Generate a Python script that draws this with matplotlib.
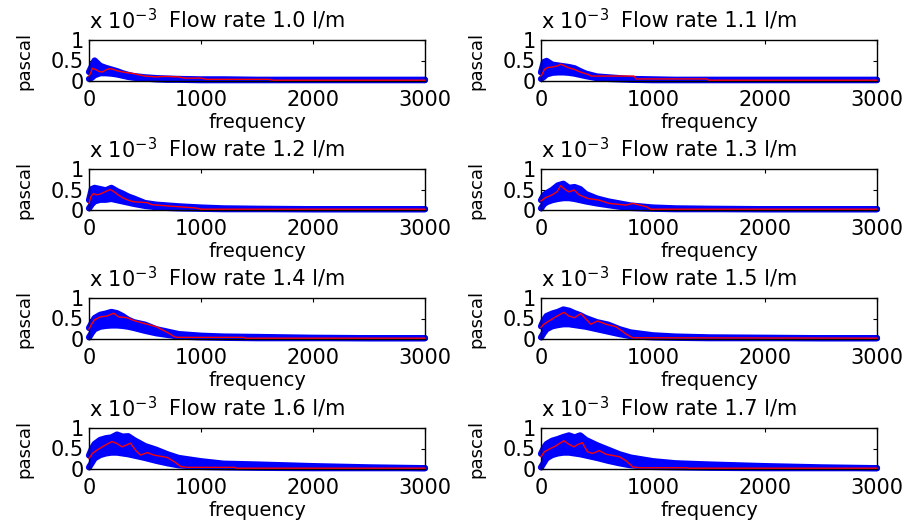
import matplotlib
matplotlib.use("Agg")
import matplotlib.pyplot as plt
import numpy as np

plt.rcParams['font.family'] = ['DejaVu Sans']
plt.rcParams['mathtext.fontset'] = 'dejavusans'

flow_labels = ["1.0", "1.1", "1.2", "1.3", "1.4", "1.5", "1.6", "1.7"]

# shared frequency grid for the blue (measured points) band, values in units of 1e-3 Pa
blue_freq = [0, 25, 50, 100, 150, 200, 250, 300, 350, 400, 500, 600, 700, 800, 1000, 1200, 1500, 2000, 2500, 3000]

blue_hi_10 = [0.22, 0.36, 0.50, 0.37, 0.32, 0.28, 0.24, 0.19, 0.15, 0.12, 0.09, 0.07, 0.06, 0.05, 0.04, 0.04, 0.03, 0.03, 0.03, 0.03]
blue_lo_10 = [0.05, 0.08, 0.14, 0.19, 0.19, 0.18, 0.16, 0.13, 0.10, 0.08, 0.06, 0.04, 0.03, 0.03, 0.02, 0.02, 0.02, 0.02, 0.02, 0.02]
blue_hi_11 = [0.21, 0.46, 0.49, 0.40, 0.38, 0.36, 0.34, 0.31, 0.24, 0.18, 0.11, 0.09, 0.07, 0.05, 0.04, 0.03, 0.03, 0.03, 0.03, 0.03]
blue_lo_11 = [0.05, 0.10, 0.16, 0.20, 0.21, 0.21, 0.20, 0.18, 0.15, 0.12, 0.07, 0.05, 0.04, 0.03, 0.02, 0.02, 0.02, 0.02, 0.02, 0.02]
blue_hi_12 = [0.24, 0.51, 0.54, 0.51, 0.48, 0.54, 0.46, 0.40, 0.33, 0.28, 0.17, 0.13, 0.11, 0.09, 0.06, 0.04, 0.03, 0.02, 0.02, 0.02]
blue_lo_12 = [0.04, 0.14, 0.21, 0.25, 0.25, 0.27, 0.24, 0.21, 0.18, 0.15, 0.10, 0.07, 0.05, 0.04, 0.03, 0.02, 0.02, 0.02, 0.02, 0.02]
blue_hi_13 = [0.24, 0.36, 0.41, 0.49, 0.60, 0.64, 0.54, 0.56, 0.51, 0.39, 0.28, 0.21, 0.16, 0.11, 0.06, 0.04, 0.03, 0.02, 0.02, 0.02]
blue_lo_13 = [0.04, 0.14, 0.19, 0.24, 0.27, 0.29, 0.29, 0.27, 0.24, 0.21, 0.16, 0.12, 0.08, 0.05, 0.03, 0.02, 0.02, 0.02, 0.02, 0.02]
blue_hi_14 = [0.27, 0.39, 0.51, 0.59, 0.62, 0.66, 0.63, 0.56, 0.47, 0.41, 0.35, 0.24, 0.18, 0.12, 0.08, 0.06, 0.05, 0.03, 0.02, 0.02]
blue_lo_14 = [0.04, 0.15, 0.24, 0.30, 0.32, 0.33, 0.33, 0.32, 0.30, 0.27, 0.20, 0.14, 0.10, 0.06, 0.04, 0.03, 0.02, 0.02, 0.02, 0.02]
blue_hi_15 = [0.31, 0.46, 0.56, 0.62, 0.66, 0.72, 0.69, 0.63, 0.58, 0.51, 0.41, 0.35, 0.24, 0.16, 0.09, 0.06, 0.04, 0.03, 0.02, 0.02]
blue_lo_15 = [0.04, 0.15, 0.24, 0.31, 0.34, 0.36, 0.36, 0.34, 0.32, 0.30, 0.24, 0.18, 0.12, 0.07, 0.04, 0.03, 0.02, 0.02, 0.02, 0.02]
blue_hi_16 = [0.33, 0.49, 0.61, 0.71, 0.75, 0.77, 0.84, 0.79, 0.80, 0.71, 0.56, 0.47, 0.36, 0.27, 0.19, 0.13, 0.11, 0.07, 0.04, 0.02]
blue_lo_16 = [0.04, 0.15, 0.26, 0.34, 0.38, 0.40, 0.40, 0.38, 0.36, 0.33, 0.27, 0.20, 0.14, 0.09, 0.05, 0.04, 0.03, 0.02, 0.02, 0.02]
blue_hi_17 = [0.37, 0.51, 0.61, 0.69, 0.73, 0.78, 0.82, 0.77, 0.82, 0.71, 0.58, 0.47, 0.36, 0.28, 0.19, 0.14, 0.11, 0.07, 0.04, 0.02]
blue_lo_17 = [0.04, 0.15, 0.26, 0.34, 0.38, 0.40, 0.40, 0.38, 0.36, 0.33, 0.27, 0.20, 0.14, 0.09, 0.05, 0.04, 0.03, 0.02, 0.02, 0.02]

# red (mean) curves, values in units of 1e-3 Pa
red_f_10 = [0, 15, 30, 60, 90, 120, 150, 180, 210, 250, 300, 350, 400, 450, 500, 600, 650, 700, 800, 850, 1000, 1050, 1600, 1650, 3000]
red_v_10 = [0.12, 0.20, 0.31, 0.28, 0.23, 0.22, 0.27, 0.30, 0.29, 0.25, 0.22, 0.20, 0.18, 0.15, 0.12, 0.10, 0.11, 0.11, 0.10, 0.07, 0.07, 0.04, 0.04, 0.02, 0.02]
red_f_11 = [0, 20, 30, 60, 100, 150, 175, 200, 250, 300, 350, 430, 450, 830, 850, 1480, 1500, 3000]
red_v_11 = [0.12, 0.22, 0.28, 0.33, 0.34, 0.37, 0.41, 0.38, 0.32, 0.28, 0.22, 0.15, 0.12, 0.12, 0.05, 0.05, 0.02, 0.02]
red_f_12 = [0, 15, 40, 70, 100, 140, 190, 220, 260, 300, 350, 400, 520, 560, 700, 950, 1000, 3000]
red_v_12 = [0.16, 0.32, 0.40, 0.37, 0.39, 0.44, 0.50, 0.45, 0.37, 0.30, 0.24, 0.20, 0.18, 0.13, 0.10, 0.05, 0.02, 0.02]
red_f_13 = [0, 40, 100, 145, 175, 220, 250, 295, 340, 420, 520, 610, 760, 820, 940, 980, 3000]
red_v_13 = [0.22, 0.30, 0.37, 0.45, 0.59, 0.49, 0.44, 0.49, 0.37, 0.28, 0.24, 0.16, 0.12, 0.16, 0.08, 0.02, 0.02]
red_f_14 = [0, 20, 50, 100, 160, 220, 265, 340, 400, 520, 600, 700, 760, 790, 1380, 1400, 3000]
red_v_14 = [0.24, 0.35, 0.47, 0.54, 0.56, 0.63, 0.54, 0.52, 0.45, 0.36, 0.30, 0.16, 0.06, 0.04, 0.04, 0.02, 0.02]
red_f_15 = [0, 20, 60, 130, 205, 250, 300, 355, 400, 445, 505, 580, 670, 760, 820, 3000]
red_v_15 = [0.28, 0.35, 0.42, 0.54, 0.65, 0.56, 0.52, 0.62, 0.49, 0.36, 0.44, 0.36, 0.30, 0.12, 0.03, 0.02]
red_f_16 = [0, 30, 70, 130, 205, 250, 295, 330, 370, 415, 460, 520, 580, 700, 760, 820, 880, 1300, 1320, 3000]
red_v_16 = [0.26, 0.38, 0.46, 0.56, 0.67, 0.62, 0.54, 0.58, 0.63, 0.46, 0.34, 0.40, 0.34, 0.28, 0.18, 0.06, 0.04, 0.04, 0.02, 0.02]
red_f_17 = [0, 30, 70, 130, 205, 250, 295, 330, 370, 415, 460, 520, 580, 700, 760, 820, 880, 1300, 1320, 3000]
red_v_17 = [0.30, 0.42, 0.48, 0.56, 0.69, 0.60, 0.54, 0.60, 0.64, 0.42, 0.38, 0.45, 0.36, 0.30, 0.20, 0.05, 0.03, 0.03, 0.02, 0.02]

blue_his = [blue_hi_10, blue_hi_11, blue_hi_12, blue_hi_13, blue_hi_14, blue_hi_15, blue_hi_16, blue_hi_17]
blue_los = [blue_lo_10, blue_lo_11, blue_lo_12, blue_lo_13, blue_lo_14, blue_lo_15, blue_lo_16, blue_lo_17]
red_fs = [red_f_10, red_f_11, red_f_12, red_f_13, red_f_14, red_f_15, red_f_16, red_f_17]
red_vs = [red_v_10, red_v_11, red_v_12, red_v_13, red_v_14, red_v_15, red_v_16, red_v_17]

x_ticks = [0, 1000, 2000, 3000]
y_ticks = [0, 0.5e-3, 1e-3]
y_tick_labels = ["0", "0.5", "1"]
SCALE = 1e-3

W, H = 908, 525
fig = plt.figure(figsize=(W / 100, H / 100), dpi=100)

col_left = [89, 541]
ax_w = 336
row_top = [40, 169, 298, 428]
ax_h = 41

FS = 15
for i, lab in enumerate(flow_labels):
    r, c = divmod(i, 2)
    l = col_left[c] / W
    b = 1 - (row_top[r] + ax_h) / H
    ax = fig.add_axes([l, b, ax_w / W, ax_h / H])
    f = np.array(blue_freq)
    hi = np.array(blue_his[i]) * SCALE
    lo = np.array(blue_los[i]) * SCALE
    ax.fill_between(f, lo, hi, color=(0, 0, 1), lw=0, clip_on=False, zorder=2)
    for env in (hi, lo):
        ax.plot(f, env, color=(0, 0, 1), lw=4.5, solid_capstyle='round',
                solid_joinstyle='round', clip_on=False, zorder=2)
    ax.plot(red_fs[i], np.array(red_vs[i]) * SCALE, color=(1, 0, 0), lw=1.0,
            clip_on=False, zorder=3)
    ax.set_xlim(0, 3000)
    ax.set_ylim(0, 1e-3)
    ax.set_xticks(x_ticks)
    ax.set_xticklabels([str(t) for t in x_ticks])
    ax.set_yticks(y_ticks)
    ax.set_yticklabels(y_tick_labels)
    ax.tick_params(direction='in', length=3, width=0.8, top=True, right=True,
                   labelsize=FS, colors='black')
    ax.tick_params(axis='x', pad=6.5)
    ax.tick_params(axis='y', pad=3.5)
    for s in ax.spines.values():
        s.set_linewidth(1.0)
    ax.set_xlabel("frequency", fontsize=14, labelpad=2)
    ax.set_ylabel("pascal", fontsize=13, labelpad=13)
    ax.annotate("Flow rate %s l/m" % lab, xy=(0.5, 1), xycoords='axes fraction',
                xytext=(0, 9.5), textcoords='offset points', ha='center',
                va='baseline', fontsize=FS)
    ax.annotate(r"x 10$^{-3}$", xy=(0, 1), xycoords='axes fraction',
                xytext=(0, 8), textcoords='offset points', ha='left',
                va='baseline', fontsize=FS)

fig.savefig("out.png", dpi=100)
